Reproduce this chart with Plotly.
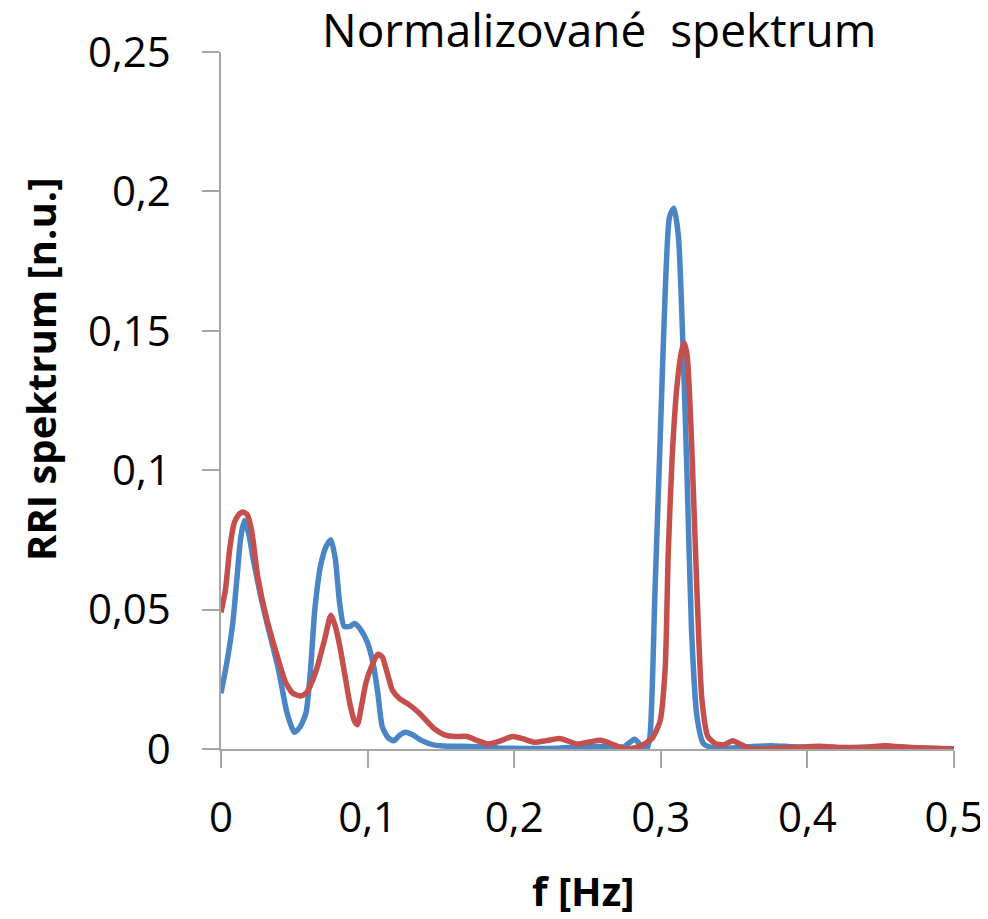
import plotly.graph_objects as go

# values
f_blue = [0.000, 0.004, 0.008, 0.011, 0.0135, 0.016, 0.019, 0.022, 0.027, 0.031,
          0.039, 0.045, 0.050, 0.054, 0.058, 0.061, 0.064, 0.068, 0.072, 0.075,
          0.078, 0.081, 0.084, 0.088, 0.091, 0.095, 0.100, 0.104, 0.107, 0.110,
          0.114, 0.118, 0.122, 0.126, 0.131, 0.137, 0.145, 0.155, 0.165, 0.175,
          0.190, 0.210, 0.230, 0.250, 0.265, 0.275, 0.282, 0.286, 0.290, 0.2925,
          0.296, 0.2995, 0.303, 0.306, 0.309, 0.312, 0.3152, 0.318, 0.321, 0.3247,
          0.329, 0.335, 0.345, 0.360, 0.375, 0.390, 0.410, 0.430, 0.455, 0.480, 0.500]
s_blue = [0.020, 0.031, 0.045, 0.062, 0.076, 0.082, 0.077, 0.068, 0.055, 0.046,
          0.029, 0.013, 0.006, 0.008, 0.013, 0.028, 0.050, 0.066, 0.073, 0.075,
          0.068, 0.052, 0.044, 0.044, 0.045, 0.043, 0.038, 0.030, 0.020, 0.008,
          0.004, 0.003, 0.005, 0.006, 0.005, 0.003, 0.0015, 0.001, 0.001, 0.0008,
          0.0003, 0.0002, 0.0003, 0.0008, 0.001, 0.0008, 0.0035, 0.0015, -0.0005, 0.004,
          0.056, 0.110, 0.164, 0.191, 0.194, 0.184, 0.1435, 0.0965, 0.042, 0.0115,
          0.002, 0.0005, 0.0003, 0.0008, 0.0012, 0.0008, 0.0005, 0.0005, 0.0008, 0.0003, 0.0]

f_red = [0.000, 0.003, 0.006, 0.009, 0.012, 0.015, 0.018, 0.021, 0.025, 0.031,
         0.038, 0.044, 0.049, 0.054, 0.058, 0.062, 0.066, 0.071, 0.075, 0.078,
         0.081, 0.085, 0.088, 0.091, 0.093, 0.096, 0.099, 0.103, 0.107, 0.110,
         0.113, 0.117, 0.122, 0.128, 0.135, 0.145, 0.153, 0.160, 0.168, 0.175,
         0.182, 0.190, 0.199, 0.207, 0.214, 0.222, 0.231, 0.243, 0.251, 0.259,
         0.268, 0.276, 0.286, 0.294, 0.2995, 0.303, 0.305, 0.3076, 0.311, 0.3145,
         0.316, 0.318, 0.321, 0.3247, 0.328, 0.332, 0.337, 0.343, 0.349, 0.355,
         0.362, 0.375, 0.390, 0.408, 0.425, 0.440, 0.453, 0.470, 0.485, 0.500]
s_red = [0.049, 0.057, 0.072, 0.081, 0.084, 0.085, 0.084, 0.078, 0.062, 0.047,
         0.034, 0.024, 0.020, 0.019, 0.020, 0.024, 0.030, 0.040, 0.048, 0.044,
         0.037, 0.025, 0.016, 0.010, 0.0087, 0.016, 0.024, 0.030, 0.034, 0.033,
         0.028, 0.021, 0.018, 0.016, 0.013, 0.0075, 0.005, 0.0045, 0.0045, 0.003,
         0.0018, 0.0028, 0.0045, 0.0035, 0.0024, 0.003, 0.0038, 0.0018, 0.0025, 0.0031,
         0.0015, 0.0, 0.001, 0.0038, 0.010, 0.029, 0.069, 0.103, 0.130, 0.1435,
         0.1456, 0.141, 0.110, 0.056, 0.018, 0.0046, 0.002, 0.0015, 0.003, 0.0015,
         0.0, 0.0002, 0.0005, 0.001, 0.0005, 0.0006, 0.0012, 0.0005, 0.0003, 0.0]

x_ticks = [0, 0.1, 0.2, 0.3, 0.4, 0.5]
x_labels = ["0", "0,1", "0,2", "0,3", "0,4", "0,5"]
y_ticks = [0, 0.05, 0.1, 0.15, 0.2, 0.25]
y_labels = ["0", "0,05", "0,1", "0,15", "0,2", "0,25"]

# the page body adds an 8px margin, so the figure is drawn 8px in from the corner
OFF = 8
W, H = 980, 911
L, R, T, B = 221 - OFF, 34, 52 - OFF, 170
axis_grey = "#a6a6a6"
font_family = "Open Sans"


def to_paper(px_x, px_y):
    # screenshot pixel -> paper coords of the plot area
    fx, fy = px_x - OFF, px_y - OFF
    return (fx - L) / (W - L - R), 1 - (fy - T) / (H - T - B)


fig = go.Figure()
fig.add_trace(go.Scatter(
    x=f_blue, y=s_blue, mode="lines",
    line=dict(color="#4a85c5", width=5.5, shape="spline", smoothing=0.6),
    showlegend=False,
))
fig.add_trace(go.Scatter(
    x=f_red, y=s_red, mode="lines",
    line=dict(color="#c44f4c", width=5.5, shape="spline", smoothing=0.6),
    showlegend=False,
))

title_x, title_y = to_paper(599, 29)
xt_x, xt_y = to_paper(583, 891)
yt_x, yt_y = to_paper(40, 370)

fig.update_layout(
    width=W,
    height=H,
    paper_bgcolor="white",
    plot_bgcolor="white",
    margin=dict(l=L, r=R, t=T, b=B),
    font=dict(family=font_family, color="black"),
    xaxis=dict(
        range=[0, 0.5],
        tickvals=x_ticks,
        ticktext=x_labels,
        tickfont=dict(size=42),
        automargin=False,
        showgrid=False,
        zeroline=False,
        showline=True,
        linecolor=axis_grey,
        linewidth=1.5,
        ticks="outside",
        ticklen=17,
        tickwidth=1.5,
        tickcolor=axis_grey,
        ticklabelstandoff=14,
    ),
    yaxis=dict(
        range=[0, 0.25],
        tickvals=y_ticks,
        ticktext=y_labels,
        tickfont=dict(size=42),
        automargin=False,
        showgrid=False,
        zeroline=False,
        showline=True,
        linecolor=axis_grey,
        linewidth=1.5,
        ticks="outside",
        ticklen=17,
        tickwidth=1.5,
        tickcolor=axis_grey,
        ticklabelstandoff=23,
    ),
    annotations=[
        dict(text="Normalizované\u00a0 spektrum", x=title_x, y=title_y,
             xref="paper", yref="paper", xanchor="center", yanchor="middle",
             showarrow=False, font=dict(size=46)),
        dict(text="<b>f [Hz]</b>", x=xt_x, y=xt_y,
             xref="paper", yref="paper", xanchor="center", yanchor="middle",
             showarrow=False, font=dict(size=40)),
        dict(text="<b>RRI spektrum [n.u.]</b>", x=yt_x, y=yt_y,
             xref="paper", yref="paper", xanchor="center", yanchor="middle",
             textangle=-90, showarrow=False, font=dict(size=40)),
    ],
)

fig.write_html("out.html")
